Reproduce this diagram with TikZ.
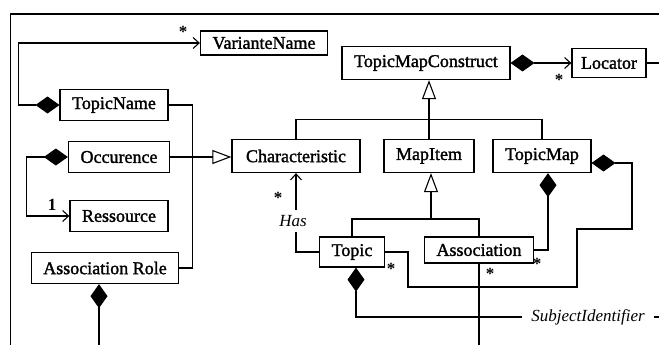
\documentclass[tikz,border=0pt]{standalone}
\usepackage{fontspec}
\setmainfont{Liberation Serif}
\newfontfamily\classfont{Liberation Serif}[FakeBold=1.6]
\usetikzlibrary{arrows.meta}

\tikzset{classe/.style = {draw, line width=1.3pt, inner xsep=12pt, inner ysep=0pt,
                          minimum height=31pt, font=\classfont\fontsize{18}{20}\selectfont},
         lien/.style = {line width=1.1pt},
         mult/.style = {font=\fontsize{17}{18}\selectfont\bfseries, inner sep=1pt},
         role/.style = {font=\fontsize{17}{19}\selectfont\itshape, fill=white, inner sep=5pt},
         losange/.tip = {Diamond[length=24pt,width=17pt]},
         fleche/.tip = {Straight Barb[length=6pt,width=11pt,line width=1.1pt]},
         herit/.tip = {Triangle[open,length=19pt,width=14pt,line width=1.1pt]}
        }

\begin{document}
\begin{tikzpicture}[x=1pt,y=-1pt]
\useasboundingbox (0,0) rectangle (659,345);
% cadre
\draw[line width=1.6pt] (10.5,345) |- (659,14);
% classes
\node[classe, minimum height=24pt] (varname) at (264,43) {VarianteName};
\node[classe] (tname) at (114,105) {TopicName};
\node[classe] (occ) at (119,157) {Occurence};
\node[classe] (res) at (119,216) {Ressource};
\node[classe] (arole) at (105,268) {Association Role};
\node[classe, minimum height=33pt] (tmc) at (426,63) {TopicMapConstruct};
\node[classe, minimum height=29pt, inner xsep=9pt] (loc) at (609,63) {Locator};
\node[classe, minimum height=33pt, inner xsep=14pt] (carac) at (296,156) {Characteristic};
\node[classe, minimum height=33pt] (mitem) at (429,156) {MapItem};
\node[classe, minimum height=33pt] (tmap) at (542,156) {TopicMap};
\node[classe, minimum height=30pt] (topic) at (352,252) {Topic};
\node[classe, minimum height=26pt] (assoc) at (479,250) {Association};
% points libres
\coordinate (arbas) at (99,345);
\coordinate (locfin) at (659,63);
\coordinate (fourche) at (431,219);
\coordinate (tmd) at (632,229);
\coordinate (tmg) at (577,287);
\coordinate (tpd) at (408,252);
\coordinate (asbas) at (479,345);
\coordinate (sifin) at (659,317);
% liens
\draw[lien, losange-fleche] (tname.west) -- ++(-41,0) |- (varname.west);
\draw[lien, losange-fleche] (occ.west) -- ++(-41,0) |- (res.west);
\draw[lien, -herit] (occ.east) -- (occ.east -| carac.west);
\draw[lien] (tname.east) -- ++(24,0) |- (arole.east);
\draw[lien, losange-] (arole.south -| arbas) -- (arbas);
\draw[lien, losange-fleche] (tmc.east) -- (loc.west);
\draw[lien] (loc.east) -- (locfin);
\draw[lien, -herit] (mitem.north) -- (mitem.north |- tmc.south);
\draw[lien] (carac.north) -- ++(0,-19) -| (tmap.north);
\draw[lien] (topic.north) |- (fourche) -| (assoc.north);
\draw[lien, -herit] (fourche) -- (fourche |- mitem.south);
\draw[lien, -fleche] (topic.west) -| (carac.south);
\draw[lien, losange-] ([yshift=-7pt]tmap.east) -| (tmd) -| (tmg) -| (tpd) -- (topic.east);
\draw[lien, losange-] ([xshift=6pt]tmap.south) |- (assoc.east);
\draw[lien] (assoc.south) -- (asbas);
\draw[lien, losange-] ([xshift=4pt]topic.south) |- (sifin);
% etiquettes
\node[mult] (m1) at (183,32) {*};
\node[mult] (m2) at (52,205) {1};
\node[mult] (m3) at (559,80) {*};
\node[mult] (m4) at (278,198) {*};
\node[mult] (m5) at (391,269) {*};
\node[mult] (m6) at (537,264) {*};
\node[mult] (m7) at (490,274) {*};
\node[role] (has) at (293,221) {Has};
\node[role, inner xsep=9pt] (sid) at (588,317) {SubjectIdentifier};
\end{tikzpicture}
\end{document}
